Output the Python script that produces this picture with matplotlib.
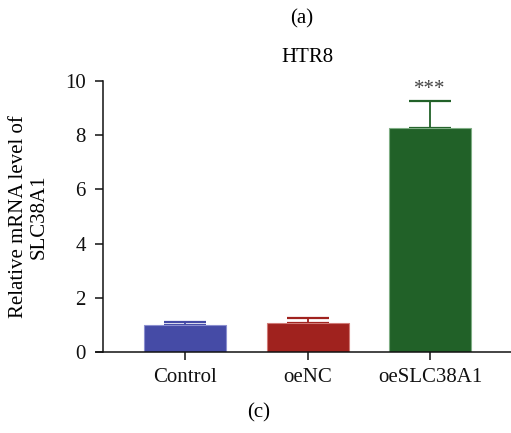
import matplotlib.pyplot as plt

groups = ["Control", "oeNC", "oeSLC38A1"]
means = [1.0, 1.07, 8.27]
errors = [0.09, 0.17, 0.98]
colors = ["#454ba6", "#a0221e", "#216128"]
edge_colors = ["#8b8fcf", "#d07a76", "#7fae84"]
stars = ["", "", "***"]

W, H = 511, 433
plt.rcParams["font.family"] = ["Liberation Serif", "DejaVu Serif"]

fig = plt.figure(figsize=(W / 100, H / 100), dpi=100)

# axes placed in pixels: left edge 96, right edge 511, y=0 at 352, y=10 at 81
ax = fig.add_axes([96 / W, (H - 352) / H, 415 / W, (352 - 81) / H])

x = list(range(len(groups)))
for i in x:
    ax.bar(i, means[i], width=0.67, color=colors[i],
           edgecolor=edge_colors[i], linewidth=0.8, zorder=2)
    ax.errorbar(i, means[i], yerr=[[0], [errors[i]]], fmt="none",
                ecolor=colors[i], elinewidth=1.3, capsize=15, capthick=1.6,
                zorder=1)
    if stars[i]:
        ax.text(i, means[i] + errors[i] + 0.42, stars[i], ha="center",
                va="center", fontsize=15, color="#444444")

ax.set_xlim(-0.727, 2.661)
ax.set_ylim(0, 10)
ax.set_yticks([0, 2, 4, 6, 8, 10])
ax.set_xticks(x)
ax.set_xticklabels(groups)

ax.spines["top"].set_visible(False)
ax.spines["right"].set_visible(False)
ax.spines["left"].set_position(("data", -0.669))
for s in ("left", "bottom"):
    ax.spines[s].set_linewidth(1.1)
    ax.spines[s].set_color("#111111")
ax.tick_params(axis="both", direction="out", length=5.5, width=1.1,
               labelsize=15, colors="#111111", pad=7)
ax.tick_params(axis="x", pad=6)

fig.text(307 / W, 1 - 57 / H, "HTR8", ha="center", va="center", fontsize=15)
fig.text(302 / W, 1 - 19 / H, "(a)", ha="center", va="center", fontsize=15)
fig.text(259 / W, 1 - 413 / H, "(c)", ha="center", va="center", fontsize=15)
fig.text(29 / W, 1 - 217 / H, "Relative mRNA level of\nSLC38A1",
         ha="center", va="center", rotation=90, fontsize=15,
         multialignment="center", linespacing=1.12)

fig.savefig("out.png", dpi=100)
